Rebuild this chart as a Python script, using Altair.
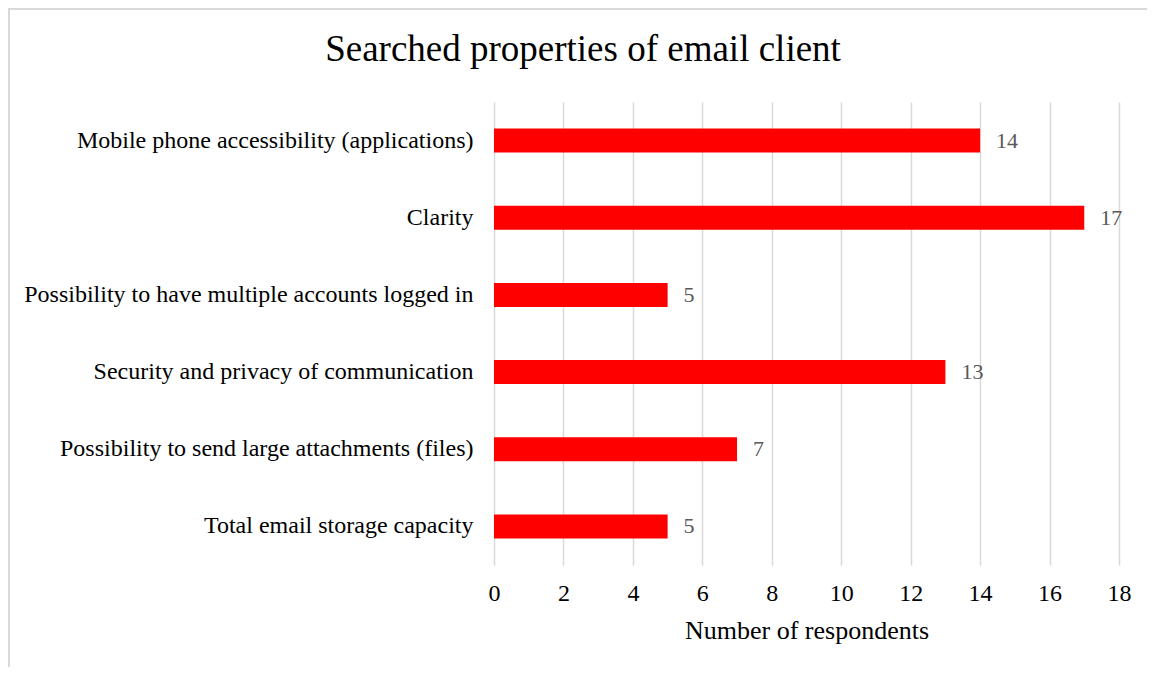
import altair as alt
import pandas as pd

categories = [
    "Mobile phone accessibility (applications)",
    "Clarity",
    "Possibility to have multiple accounts logged in",
    "Security and privacy of communication",
    "Possibility to send large attachments (files)",
    "Total email storage capacity",
]
values = [14, 17, 5, 13, 7, 5]
x_ticks = [0, 2, 4, 6, 8, 10, 12, 14, 16, 18]
title_text = "Searched properties of email client"

df = pd.DataFrame({"category": categories, "value": values})

W, H = 625, 463
PAD = {"left": 486, "top": 94, "right": 28, "bottom": 102}
FONT = "Liberation Serif"

y_enc = alt.Y(
    "category:N",
    sort=categories,
    title=None,
    scale=alt.Scale(paddingInner=0.69, paddingOuter=0.345),
    axis=alt.Axis(labelFontSize=24, labelFont=FONT, labelColor="#000000",
                  labelPadding=21, ticks=False, domain=False, grid=False,
                  labelLimit=600),
)
x_enc = alt.X(
    "value:Q",
    title="Number of respondents",
    scale=alt.Scale(domain=[0, 18], nice=False),
    axis=alt.Axis(values=x_ticks, labelFontSize=24, labelFont=FONT,
                  labelColor="#000000", labelFlush=False,
                  titleFontSize=26, titleFont=FONT,
                  titleFontWeight="normal", titleColor="#000000",
                  titlePadding=12, labelPadding=16,
                  ticks=False, domain=False, grid=True,
                  gridColor="#d9d9d9", gridWidth=1.5),
)

bars = alt.Chart(df).mark_bar(color="#ff0000").encode(x=x_enc, y=y_enc)

labels = alt.Chart(df).mark_text(
    align="left", baseline="middle", dx=16, fontSize=22, font=FONT, color="#595959"
).encode(x=alt.X("value:Q"), y=alt.Y("category:N", sort=categories), text="value:Q")

frame_left = alt.Chart(df).mark_rule(color="#d9d9d9", strokeWidth=2).encode(
    x=alt.value(-PAD["left"] + 1), y=alt.value(-PAD["top"]), y2=alt.value(H + PAD["bottom"])
)
frame_top = alt.Chart(df).mark_rule(color="#d9d9d9", strokeWidth=2).encode(
    y=alt.value(-PAD["top"] + 1), x=alt.value(-PAD["left"]), x2=alt.value(W + PAD["right"])
)

title = alt.Chart(pd.DataFrame({"t": [title_text]})).mark_text(
    align="center", baseline="alphabetic", fontSize=37, font=FONT, color="#000000"
).encode(x=alt.value(583 - 8 - PAD["left"]), y=alt.value(61 - 8 - PAD["top"]), text="t:N")

chart = alt.layer(frame_left, frame_top, bars, labels, title).properties(
    width=W,
    height=H,
    autosize=alt.AutoSizeParams(type="none"),
    padding=PAD,
).configure(background="white").configure_view(stroke=None)

chart.save("out.html", embed_options={"renderer": "svg", "actions": False})
